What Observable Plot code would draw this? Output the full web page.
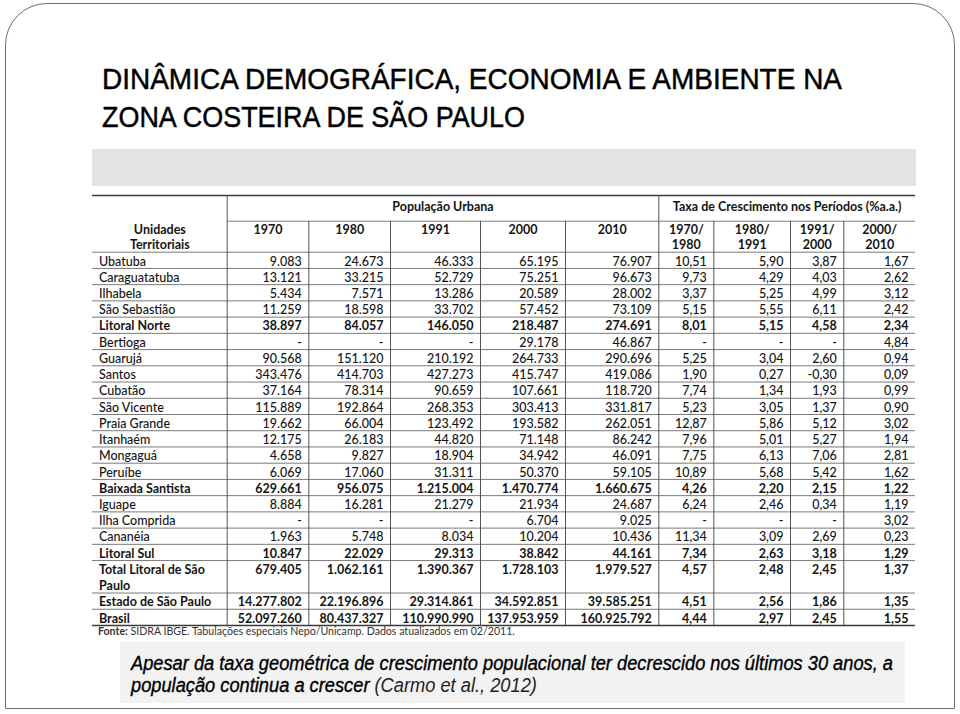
<!DOCTYPE html>
<html>
<head>
<meta charset="utf-8">
<script src="https://cdn.jsdelivr.net/npm/d3@7"></script>
<script src="https://cdn.jsdelivr.net/npm/@observablehq/plot@0.6"></script>
<style>
  html, body { margin: 0; padding: 0; background: #fff; }
  body { width: 960px; height: 714px; position: relative; overflow: hidden; font-family: "Liberation Sans", Arial, sans-serif; }
  #frame { position: absolute; left: 5px; top: 3px; width: 950px; height: 706px; border: 1.5px solid #6e6e6e; border-radius: 42px 42px 0 0; box-sizing: border-box; }
  #title { position: absolute; left: 102px; top: 60px; font-size: 29px; line-height: 38px; color: #000; -webkit-text-stroke: 0.45px #000; }
  .fit { display: block; white-space: nowrap; transform-origin: 0 50%; width: max-content; }
  #band { position: absolute; left: 92px; top: 149px; width: 824px; height: 37px; background: #e3e3e3; }
  #chart { position: absolute; left: 88px; top: 190px; }
  #source { position: absolute; left: 98px; top: 625px; font-family: Lato, sans-serif; font-size: 10.6px; line-height: 13px; color: #333; white-space: nowrap; }
  #capbox { position: absolute; left: 120px; top: 642px; width: 785px; height: 61px; background: #f2f2f2; }
  #caption { position: absolute; left: 131px; top: 652px; font-size: 20px; line-height: 22px; font-style: italic; color: #000; }
  #caption .main { -webkit-text-stroke: 0.35px #000; }
  #caption .cite { color: #222; }
</style>
</head>
<body>
<div id="frame"></div>
<div id="title"></div>
<div id="band"></div>
<div id="chart"></div>
<div id="source"></div>
<div id="capbox"></div>
<div id="caption"></div>
<script>
// ---------------- DATA ----------------
const titleLines = ["DINÂMICA DEMOGRÁFICA, ECONOMIA E AMBIENTE NA", "ZONA COSTEIRA DE SÃO PAULO"];
const groupTitles = ["População Urbana", "Taxa de Crescimento nos Períodos (%a.a.)"];
const firstHeader = "Unidades\nTerritoriais";
const popYears = ["1970", "1980", "1991", "2000", "2010"];
const rateLabels = ["1970/\n1980", "1980/\n1991", "1991/\n2000", "2000/\n2010"];

const names = ["Ubatuba", "Caraguatatuba", "Ilhabela", "São Sebastião", "Litoral Norte",
  "Bertioga", "Guarujá", "Santos", "Cubatão", "São Vicente", "Praia Grande", "Itanhaém",
  "Mongaguá", "Peruíbe", "Baixada Santista", "Iguape", "Ilha Comprida", "Cananéia",
  "Litoral Sul", "Total Litoral de São Paulo", "Estado de São Paulo", "Brasil"];
const aggregates = ["Litoral Norte", "Baixada Santista", "Litoral Sul",
  "Total Litoral de São Paulo", "Estado de São Paulo", "Brasil"];

const pop1970 = [9083, 13121, 5434, 11259, 38897, null, 90568, 343476, 37164, 115889, 19662, 12175, 4658, 6069, 629661, 8884, null, 1963, 10847, 679405, 14277802, 52097260];
const pop1980 = [24673, 33215, 7571, 18598, 84057, null, 151120, 414703, 78314, 192864, 66004, 26183, 9827, 17060, 956075, 16281, null, 5748, 22029, 1062161, 22196896, 80437327];
const pop1991 = [46333, 52729, 13286, 33702, 146050, null, 210192, 427273, 90659, 268353, 123492, 44820, 18904, 31311, 1215004, 21279, null, 8034, 29313, 1390367, 29314861, 110990990];
const pop2000 = [65195, 75251, 20589, 57452, 218487, 29178, 264733, 415747, 107661, 303413, 193582, 71148, 34942, 50370, 1470774, 21934, 6704, 10204, 38842, 1728103, 34592851, 137953959];
const pop2010 = [76907, 96673, 28002, 73109, 274691, 46867, 290696, 419086, 118720, 331817, 262051, 86242, 46091, 59105, 1660675, 24687, 9025, 10436, 44161, 1979527, 39585251, 160925792];

const rate7080 = [10.51, 9.73, 3.37, 5.15, 8.01, null, 5.25, 1.90, 7.74, 5.23, 12.87, 7.96, 7.75, 10.89, 4.26, 6.24, null, 11.34, 7.34, 4.57, 4.51, 4.44];
const rate8091 = [5.90, 4.29, 5.25, 5.55, 5.15, null, 3.04, 0.27, 1.34, 3.05, 5.86, 5.01, 6.13, 5.68, 2.20, 2.46, null, 3.09, 2.63, 2.48, 2.56, 2.97];
const rate9100 = [3.87, 4.03, 4.99, 6.11, 4.58, null, 2.60, -0.30, 1.93, 1.37, 5.12, 5.27, 7.06, 5.42, 2.15, 0.34, null, 2.69, 3.18, 2.45, 1.86, 2.45];
const rate0010 = [1.67, 2.62, 3.12, 2.42, 2.34, 4.84, 0.94, 0.09, 0.99, 0.90, 3.02, 1.94, 2.81, 1.62, 1.22, 1.19, 3.02, 0.23, 1.29, 1.37, 1.35, 1.55];

const sourceLabel = "Fonte:";
const sourceText = " SIDRA IBGE. Tabulações especiais Nepo/Unicamp. Dados atualizados em 02/2011.";
const captionMain = ["Apesar da taxa geométrica de crescimento populacional ter decrescido nos últimos 30 anos, a", "população continua a crescer "];
const captionCite = "(Carmo et al., 2012)";

// ---------------- LAYOUT ----------------
const colEdges = [0, 134.7, 216.3, 298, 388, 473, 566.3, 621.3, 698, 751.3, 823];
const H1 = 25.7, H2 = 31, ROW = 16.23, PAD = 7, NAME_X = 6.5;
const FS = 12.5, FONT = "Lato, 'Open Sans', sans-serif", INK = "#141414";
const wrapNames = {"Total Litoral de São Paulo": "Total Litoral de São\nPaulo"};

const loc = d3.formatLocale({decimal: ",", thousands: ".", grouping: [3], currency: ["", ""], minus: "-"});
const fmtPop = loc.format(",d");
const fmtRate = loc.format(".2f");
const popCols = [pop1970, pop1980, pop1991, pop2000, pop2010];
const rateCols = [rate7080, rate8091, rate9100, rate0010];

let acc = H1 + H2;
const rows = names.map((name, i) => {
  const lines = wrapNames[name] ? 2 : 1;
  const top = acc;
  acc += ROW * lines;
  return {name, i, top, bottom: acc, lines, bold: aggregates.includes(name), label: wrapNames[name] || name};
});
const tableBottom = acc;

const numCells = [];
rows.forEach(r => {
  popCols.forEach((col, c) => numCells.push({x: colEdges[c + 2] - PAD, y: r.top + ROW / 2,
    text: col[r.i] == null ? "-" : fmtPop(col[r.i]), bold: r.bold}));
  rateCols.forEach((col, c) => numCells.push({x: colEdges[c + 7] - PAD, y: r.top + ROW / 2,
    text: col[r.i] == null ? "-" : fmtRate(col[r.i]), bold: r.bold}));
});
const nameCells = rows.map(r => ({x: NAME_X, y: r.top + ROW * r.lines / 2, text: r.label, bold: r.bold}));

const mid = (a, b) => (colEdges[a] + colEdges[b]) / 2;
const headerCells = [
  {x: mid(1, 6), y: 11, text: groupTitles[0]},
  {x: mid(6, 10), y: 11, text: groupTitles[1]},
  {x: mid(0, 1), y: H1 + H2 / 2, text: firstHeader},
  ...popYears.map((t, c) => ({x: mid(c + 1, c + 2), y: H1 + 8.3, text: t})),
  ...rateLabels.map((t, c) => ({x: mid(c + 6, c + 7), y: H1 + H2 / 2, text: t}))
];

const hLines = [
  {y: 0, x1: 0, x2: 823, dark: true},
  {y: H1, x1: colEdges[1], x2: 823},
  {y: H1 + H2, x1: 0, x2: 823},
  ...rows.slice(0, -1).map(r => ({y: r.bottom, x1: 0, x2: 823})),
  {y: tableBottom, x1: 0, x2: 823, dark: true}
];
const vLines = colEdges.slice(1, -1).map((x, k) => {
  const idx = k + 1;
  return {x, y1: (idx === 1 || idx === 6) ? 0 : H1, y2: tableBottom};
});

const textOpts = {x: "x", y: "y", text: "text", fontSize: FS, fontFamily: FONT, fill: INK, lineHeight: ROW / FS};

const chart = Plot.plot({
  width: 832,
  height: 446,
  margin: 0,
  x: {type: "linear", domain: [0, 823], range: [4, 827], axis: null},
  y: {type: "linear", domain: [0, 440], range: [5, 445], axis: null},
  style: {background: "transparent", fontFamily: FONT},
  marks: [
    Plot.ruleY(hLines.filter(d => !d.dark), {y: "y", x1: "x1", x2: "x2", stroke: "#7a7a7a", strokeWidth: 1}),
    Plot.ruleY(hLines.filter(d => d.dark), {y: "y", x1: "x1", x2: "x2", stroke: "#3a3a3a", strokeWidth: 1.4}),
    Plot.ruleX(vLines, {x: "x", y1: "y1", y2: "y2", stroke: "#555", strokeWidth: 1}),
    Plot.text(headerCells, {...textOpts, textAnchor: "middle", fontWeight: "bold", lineHeight: 15 / FS}),
    Plot.text(nameCells.filter(d => !d.bold), {...textOpts, textAnchor: "start", fontWeight: 500}),
    Plot.text(nameCells.filter(d => d.bold), {...textOpts, textAnchor: "start", fontWeight: "bold"}),
    Plot.text(numCells.filter(d => !d.bold), {...textOpts, textAnchor: "end", fontWeight: 500}),
    Plot.text(numCells.filter(d => d.bold), {...textOpts, textAnchor: "end", fontWeight: "bold"})
  ]
});
document.getElementById("chart").appendChild(chart);

// Titles and captions (HTML text)
const titleEl = document.getElementById("title");
titleLines.forEach(t => { const s = document.createElement("span"); s.className = "fit"; s.textContent = t; titleEl.appendChild(s); });

const srcEl = document.getElementById("source");
const b = document.createElement("b"); b.textContent = sourceLabel; srcEl.appendChild(b);
srcEl.appendChild(document.createTextNode(sourceText));

const capEl = document.getElementById("caption");
captionMain.forEach((t, k) => {
  const s = document.createElement("span"); s.className = "fit";
  const m = document.createElement("span"); m.className = "main"; m.textContent = t; s.appendChild(m);
  if (k === captionMain.length - 1) { const c = document.createElement("span"); c.className = "cite"; c.textContent = captionCite; s.appendChild(c); }
  capEl.appendChild(s);
});

function fitEach(container, targets) {
  container.querySelectorAll(".fit").forEach((s, k) => {
    const w = s.getBoundingClientRect().width;
    s.style.transform = `scaleX(${targets[k] / w})`;
  });
}
function fitSame(container, target) {
  const spans = container.querySelectorAll(".fit");
  const k = target / spans[0].getBoundingClientRect().width;
  spans.forEach(s => s.style.transform = `scaleX(${k})`);
}
fitEach(titleEl, [740, 423]);
fitSame(capEl, 762);
</script>
</body>
</html>
